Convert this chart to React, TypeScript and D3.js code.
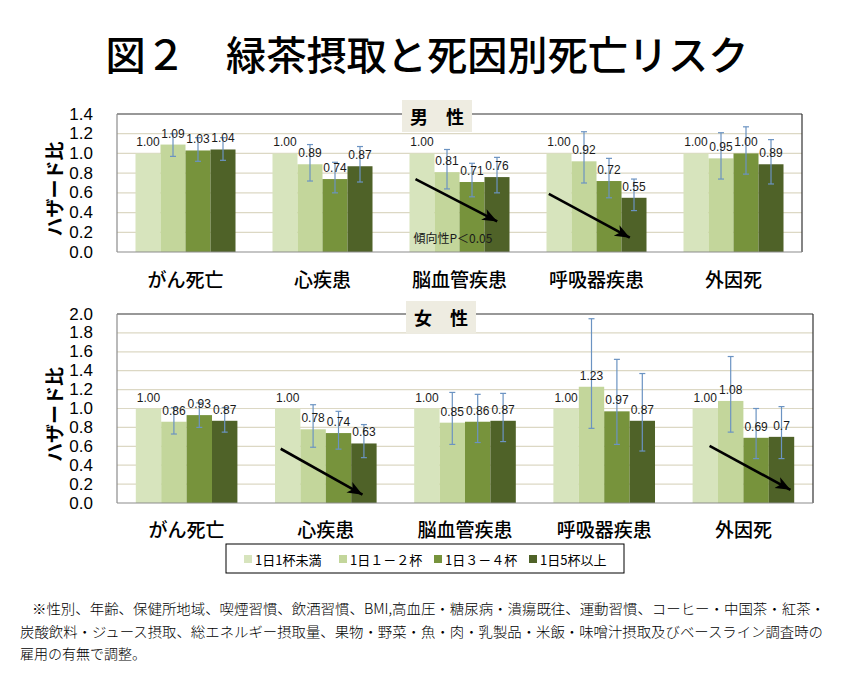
import React from "react";
import * as d3 from "d3";

const categories = ["がん死亡", "心疾患", "脳血管疾患", "呼吸器疾患", "外因死"];
const seriesNames = ["1日1杯未満", "1日１－２杯", "1日３－４杯", "1日5杯以上"];
const seriesColors = ["#d7e4bd", "#c3d69b", "#77933c", "#4f6228"];

const maleHR = [
  [1.0, 1.09, 1.03, 1.04],
  [1.0, 0.89, 0.74, 0.87],
  [1.0, 0.81, 0.71, 0.76],
  [1.0, 0.92, 0.72, 0.55],
  [1.0, 0.95, 1.0, 0.89],
];
const maleLabels = [
  ["1.00", "1.09", "1.03", "1.04"],
  ["1.00", "0.89", "0.74", "0.87"],
  ["1.00", "0.81", "0.71", "0.76"],
  ["1.00", "0.92", "0.72", "0.55"],
  ["1.00", "0.95", "1.00", "0.89"],
];
const maleLow = [
  [null, 0.97, 0.92, 0.93],
  [null, 0.72, 0.6, 0.71],
  [null, 0.64, 0.56, 0.6],
  [null, 0.7, 0.55, 0.42],
  [null, 0.74, 0.79, 0.69],
];
const maleHigh = [
  [null, 1.2, 1.16, 1.16],
  [null, 1.09, 0.91, 1.07],
  [null, 1.04, 0.9, 0.96],
  [null, 1.22, 0.95, 0.74],
  [null, 1.21, 1.27, 1.14],
];

const femaleHR = [
  [1.0, 0.86, 0.93, 0.87],
  [1.0, 0.78, 0.74, 0.63],
  [1.0, 0.85, 0.86, 0.87],
  [1.0, 1.23, 0.97, 0.87],
  [1.0, 1.08, 0.69, 0.7],
];
const femaleLabels = [
  ["1.00", "0.86", "0.93", "0.87"],
  ["1.00", "0.78", "0.74", "0.63"],
  ["1.00", "0.85", "0.86", "0.87"],
  ["1.00", "1.23", "0.97", "0.87"],
  ["1.00", "1.08", "0.69", "0.7"],
];
const femaleLow = [
  [null, 0.73, 0.8, 0.75],
  [null, 0.59, 0.57, 0.48],
  [null, 0.62, 0.64, 0.65],
  [null, 0.79, 0.62, 0.55],
  [null, 0.75, 0.47, 0.47],
];
const femaleHigh = [
  [null, 1.01, 1.06, 1.01],
  [null, 1.04, 0.97, 0.83],
  [null, 1.17, 1.15, 1.16],
  [null, 1.95, 1.52, 1.37],
  [null, 1.55, 1.0, 1.02],
];

const maleTicks = [0, 0.2, 0.4, 0.6, 0.8, 1.0, 1.2, 1.4];
const femaleTicks = [0, 0.2, 0.4, 0.6, 0.8, 1.0, 1.2, 1.4, 1.6, 1.8, 2.0];

// trend arrows: category index, fraction across the bar group, value
const maleTrend = [
  { cat: 2, f0: 0.06, v0: 0.74, f1: 0.877, v1: 0.31 },
  { cat: 3, f0: 0.023, v0: 0.59, f1: 0.833, v1: 0.145 },
];
const femaleTrend = [
  { cat: 1, f0: 0.056, v0: 0.574, f1: 0.861, v1: 0.088 },
  { cat: 4, f0: 0.167, v0: 0.605, f1: 0.963, v1: 0.14 },
];

const footnote = [
  "※性別、年齢、保健所地域、喫煙習慣、飲酒習慣、BMI,高血圧・糖尿病・潰瘍既往、運動習慣、コーヒー・中国茶・紅茶・",
  "炭酸飲料・ジュース摂取、総エネルギー摂取量、果物・野菜・魚・肉・乳製品・米飯・味噌汁摂取及びベースライン調査時の",
  "雇用の有無で調整。",
];

const CJK = "'Noto Sans CJK JP', 'Noto Sans', sans-serif";
const NUM = "'Liberation Sans', Arial, sans-serif";

type PanelProps = {
  x0: number;
  x1: number;
  yTop: number;
  yBottom: number;
  maxV: number;
  ticks: number[];
  hr: number[][];
  labels: string[][];
  low: (number | null)[][];
  high: (number | null)[][];
  trend: { cat: number; f0: number; v0: number; f1: number; v1: number }[];
  sexLabel: string;
  boxX: number;
  boxY: number;
  catLabelY: number;
  showP: boolean;
  id: string;
};

function Panel(p: PanelProps) {
  const x = d3
    .scaleBand<string>()
    .domain(categories)
    .range([p.x0, p.x1])
    .paddingInner(0.27)
    .paddingOuter(0.135);
  const sub = d3
    .scaleBand<string>()
    .domain(seriesNames)
    .range([0, x.bandwidth()])
    .padding(0);
  const y = d3.scaleLinear().domain([0, p.maxV]).range([p.yBottom, p.yTop]);
  const bw = sub.bandwidth();

  return (
    <g>
      {p.ticks
        .filter((t) => t > 0 && t < p.maxV)
        .map((t) => (
          <line
            key={"g" + t}
            x1={p.x0}
            x2={p.x1}
            y1={y(t)}
            y2={y(t)}
            stroke="#dcd8c4"
            strokeWidth={1.2}
          />
        ))}
      {categories.map((c, ci) =>
        seriesNames.map((s, si) => (
          <rect
            key={c + s}
            x={(x(c) as number) + (sub(s) as number)}
            y={y(p.hr[ci][si])}
            width={bw}
            height={y(0) - y(p.hr[ci][si])}
            fill={seriesColors[si]}
          />
        ))
      )}
      {categories.map((c, ci) =>
        seriesNames.map((s, si) => {
          const lo = p.low[ci][si];
          const hi = p.high[ci][si];
          if (lo == null || hi == null) return null;
          const cx = (x(c) as number) + (sub(s) as number) + bw / 2;
          return (
            <g key={"e" + c + s} stroke="#6b93c2" strokeWidth={1.2}>
              <line x1={cx} x2={cx} y1={y(lo)} y2={y(hi)} />
              <line x1={cx - 3} x2={cx + 3} y1={y(lo)} y2={y(lo)} />
              <line x1={cx - 3} x2={cx + 3} y1={y(hi)} y2={y(hi)} />
            </g>
          );
        })
      )}
      {categories.map((c, ci) =>
        seriesNames.map((s, si) => (
          <text
            key={"l" + c + s}
            x={(x(c) as number) + (sub(s) as number) + bw / 2}
            y={y(p.hr[ci][si]) - 7}
            textAnchor="middle"
            fontFamily={NUM}
            fontSize={12}
            fill="#1a1a1a"
          >
            {p.labels[ci][si]}
          </text>
        ))
      )}
      {p.trend.map((t, i) => {
        const bx = x(categories[t.cat]) as number;
        return (
          <line
            key={"a" + i}
            x1={bx + t.f0 * x.bandwidth()}
            y1={y(t.v0)}
            x2={bx + t.f1 * x.bandwidth()}
            y2={y(t.v1)}
            stroke="#000"
            strokeWidth={2.6}
            markerEnd={`url(#arrow-${p.id})`}
          />
        );
      })}
      {p.showP && (
        <text
          x={(x(categories[2]) as number) + 4}
          y={y(0.145)}
          dominantBaseline="central"
          fontFamily={CJK}
          fontSize={12}
          fill="#1a1a1a"
        >
          傾向性P＜0.05
        </text>
      )}
      <line x1={p.x0} x2={p.x1} y1={p.yTop} y2={p.yTop} stroke="#333" strokeWidth={1.2} />
      <line x1={p.x1} x2={p.x1} y1={p.yTop} y2={p.yBottom} stroke="#333" strokeWidth={1.2} />
      <line x1={p.x0} x2={p.x0} y1={p.yTop} y2={p.yBottom} stroke="#8c8c8c" strokeWidth={1.2} />
      <line x1={p.x0} x2={p.x1} y1={p.yBottom} y2={p.yBottom} stroke="#8c8c8c" strokeWidth={1.2} />
      {p.ticks.map((t) => (
        <text
          key={"t" + t}
          x={93}
          y={y(t)}
          textAnchor="end"
          dominantBaseline="central"
          fontFamily={NUM}
          fontSize={17}
          fill="#000"
        >
          {t.toFixed(1)}
        </text>
      ))}
      <text
        transform={`translate(53,${(p.yTop + p.yBottom) / 2 + 6}) rotate(-90)`}
        textAnchor="middle"
        dominantBaseline="central"
        fontFamily={CJK}
        fontWeight={700}
        fontSize={19}
        fill="#000"
      >
        ハザード比
      </text>
      {categories.map((c) => (
        <text
          key={"c" + c}
          x={(x(c) as number) + x.bandwidth() / 2}
          y={p.catLabelY}
          textAnchor="middle"
          dominantBaseline="central"
          fontFamily={CJK}
          fontWeight={500}
          fontSize={19}
          fill="#000"
        >
          {c}
        </text>
      ))}
      <rect x={p.boxX} y={p.boxY} width={70} height={32} fill="#eeece1" />
      <text
        x={p.boxX + 35}
        y={p.boxY + 16}
        textAnchor="middle"
        dominantBaseline="central"
        fontFamily={CJK}
        fontWeight={700}
        fontSize={18}
        fill="#000"
      >
        {p.sexLabel}
      </text>
    </g>
  );
}

export default function App() {
  return (
    <svg
      width={844}
      height={685}
      style={{ position: "absolute", left: 0, top: 0, background: "#fff" }}
    >
      <defs>
        {["m", "f"].map((id) => (
          <marker
            key={id}
            id={`arrow-${id}`}
            markerUnits="userSpaceOnUse"
            markerWidth={16}
            markerHeight={14}
            viewBox="0 0 16 14"
            refX={15}
            refY={7}
            orient="auto"
          >
            <path d="M0,1 L15,7 L0,13 L4,7 Z" fill="#000" />
          </marker>
        ))}
      </defs>
      <rect x={0} y={0} width={844} height={685} fill="#fff" />
      <text
        x={427}
        y={70}
        textAnchor="middle"
        fontFamily={CJK}
        fontWeight={500}
        fontSize={40}
        textLength={643}
        lengthAdjust="spacingAndGlyphs"
        fill="#000"
      >
        図２　緑茶摂取と死因別死亡リスク
      </text>
      <Panel
        id="m"
        x0={117}
        x1={802}
        yTop={114}
        yBottom={252}
        maxV={1.4}
        ticks={maleTicks}
        hr={maleHR}
        labels={maleLabels}
        low={maleLow}
        high={maleHigh}
        trend={maleTrend}
        sexLabel="男　性"
        boxX={402}
        boxY={100}
        catLabelY={278}
        showP={true}
      />
      <Panel
        id="f"
        x0={117}
        x1={813}
        yTop={314}
        yBottom={503}
        maxV={2.0}
        ticks={femaleTicks}
        hr={femaleHR}
        labels={femaleLabels}
        low={femaleLow}
        high={femaleHigh}
        trend={femaleTrend}
        sexLabel="女　性"
        boxX={406}
        boxY={301}
        catLabelY={528}
        showP={false}
      />
      <rect x={226} y={544} width={398} height={29} fill="#fff" stroke="#000" strokeWidth={1} />
      {seriesNames.map((s, i) => (
        <g key={"lg" + s}>
          <rect x={244 + i * 95} y={555} width={8} height={8} fill={seriesColors[i]} />
          <text
            x={255 + i * 95}
            y={559}
            dominantBaseline="central"
            fontFamily={CJK}
            fontSize={13}
            fill="#000"
          >
            {s}
          </text>
        </g>
      ))}
      {footnote.map((line, i) => (
        <text
          key={"fn" + i}
          x={i === 0 ? 32 : 20}
          y={614 + i * 22.5}
          fontFamily={CJK}
          fontWeight={300}
          fontSize={14}
          fill="#000"
          textLength={i === 0 ? 793 : i === 1 ? 803 : undefined}
          lengthAdjust="spacingAndGlyphs"
        >
          {line}
        </text>
      ))}
    </svg>
  );
}
